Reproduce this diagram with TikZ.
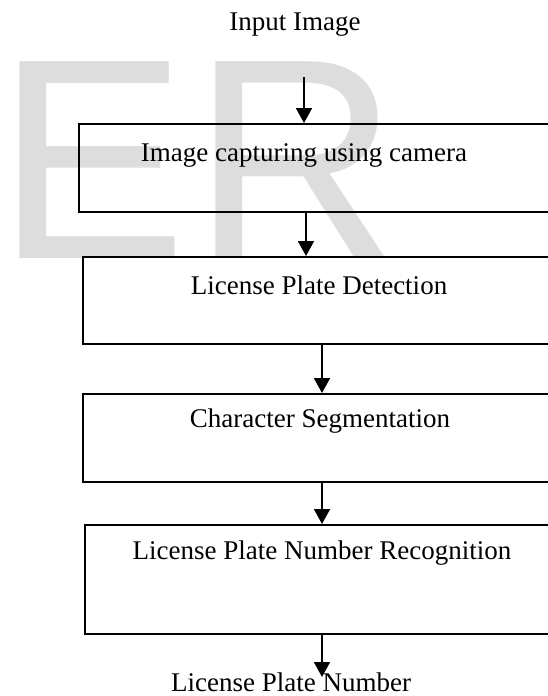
\documentclass[tikz,border=0pt]{standalone}
\usepackage{fontspec}
\setmainfont{Liberation Serif}
\newfontfamily\wmfont{Liberation Sans}
\usetikzlibrary{arrows.meta}
\definecolor{wmgray}{RGB}{221,221,221}
\tikzset{
  stage/.style={draw=black, line width=1.9pt, rectangle, inner sep=0pt, anchor=north west},
  caption/.style={font=\fontsize{27}{30}\selectfont, inner sep=0pt},
  flow/.style={line width=1.9pt, -{Triangle[length=15pt,width=16pt]}},
  watermark/.style={text=wmgray, inner sep=0pt, anchor=base west,
    font=\wmfont\fontsize{286}{286}\selectfont}
}
\begin{document}
\begin{tikzpicture}[x=1pt,y=-1pt]
  \useasboundingbox (0,0) rectangle (548,696);
  \fill[white] (0,0) rectangle (548,696);
  \clip (0,0) rectangle (548,696);

  % background watermark letters
  \node[watermark] (wmE) at (-4,258) {E};
  \node[watermark] (wmR) at (192,258) {R};

  % processing stages (open to the right edge)
  \node[stage, minimum width=500pt, minimum height=88pt]  (b1) at (78,123) {};
  \node[stage, minimum width=500pt, minimum height=87pt]  (b2) at (82,256) {};
  \node[stage, minimum width=500pt, minimum height=88pt]  (b3) at (82,393) {};
  \node[stage, minimum width=500pt, minimum height=109pt] (b4) at (84,524) {};

  % texts
  \node[caption] (tin)  at (295,25)  {Input Image};
  \node[caption] (t1)   at (304,155) {Image capturing using camera};
  \node[caption] (t2)   at (319,285) {License Plate Detection};
  \node[caption] (t3)   at (320,421) {Character Segmentation};
  \node[caption] (t4)   at (322,553) {License Plate Number Recognition};
  \node[caption] (tout) at (291,682) {License Plate Number};

  % connector positions
  \coordinate (in)  at (304,77);
  \coordinate (a2)  at (306,0);
  \coordinate (a3)  at (322,0);
  \coordinate (out) at (322,677);

  \draw[flow] (in) -- (in |- b1.north);
  \draw[flow] (b1.south -| a2) -- (b2.north -| a2);
  \draw[flow] (b2.south -| a3) -- (b3.north -| a3);
  \draw[flow] (b3.south -| a3) -- (b4.north -| a3);
  \draw[flow] (b4.south -| a3) -- (out);
\end{tikzpicture}
\end{document}
